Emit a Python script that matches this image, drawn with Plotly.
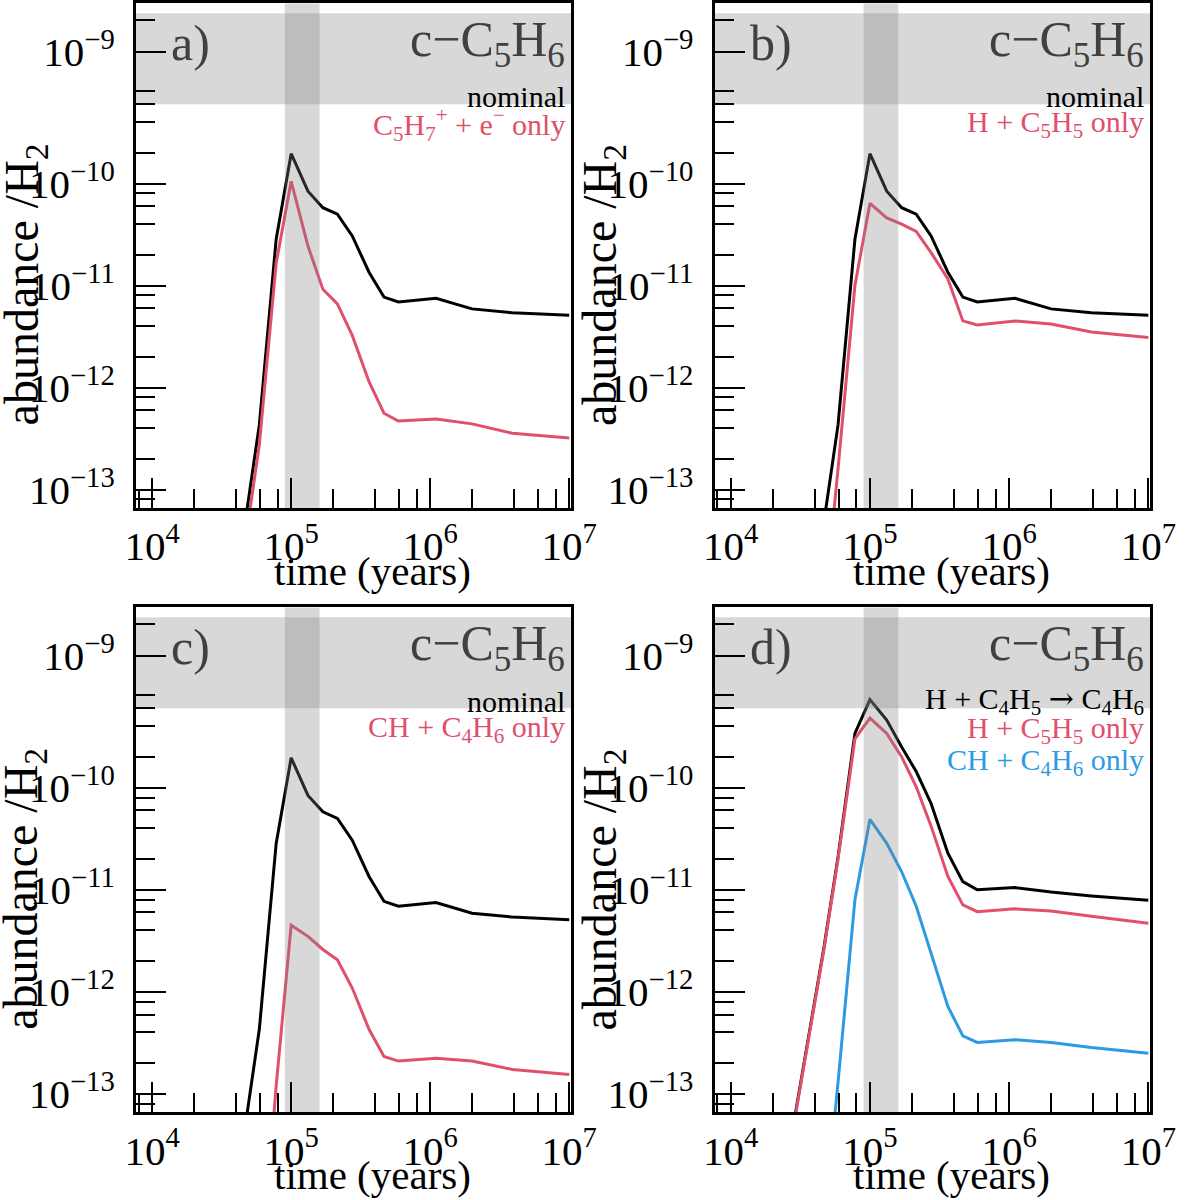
import plotly.graph_objects as go

# ---------------- data ----------------
times = [2.8e4, 3.6e4, 4.67e4, 5.9e4, 7.8e4, 1.0e5, 1.32e5, 1.69e5, 2.15e5,
         2.75e5, 3.63e5, 4.65e5, 5.9e5, 1.1e6, 2.0e6, 3.9e6, 1.0e7]

nominal = [None, None, 4.8e-14, 4.3e-13, 2.84e-11, 1.96e-10, 8.4e-11, 5.8e-11, 5.0e-11,
           3.06e-11, 1.35e-11, 7.7e-12, 6.9e-12, 7.5e-12, 5.9e-12, 5.4e-12, 5.1e-12]

c5h7_e_only = [None, None, 3.0e-14, 2.75e-13, 1.66e-11, 1.05e-10, 2.44e-11, 9.2e-12, 6.6e-12,
               3.24e-12, 1.14e-12, 5.6e-13, 4.7e-13, 4.9e-13, 4.4e-13, 3.56e-13, 3.2e-13]

h_c5h5_only_b = [None, None, 6e-15, 1.6e-13, 1.0e-11, 6.4e-11, 4.6e-11, 4.0e-11, 3.4e-11,
                 2.1e-11, 1.16e-11, 4.5e-12, 4.1e-12, 4.5e-12, 4.2e-12, 3.5e-12, 3.1e-12]

ch_c4h6_only_c = [None, None, None, 1e-15, 1.2e-13, 4.5e-12, 3.5e-12, 2.6e-12, 2.06e-12,
                  1.09e-12, 4.3e-13, 2.33e-13, 2.1e-13, 2.24e-13, 2.1e-13, 1.74e-13, 1.55e-13]

h_c4h5_d = [4.7e-14, 3.6e-13, 2.7e-12, 2.1e-11, 3.4e-10, 7.3e-10, 4.6e-10, 2.5e-10, 1.44e-10,
            7.0e-11, 2.28e-11, 1.2e-11, 1.0e-11, 1.05e-11, 9.5e-12, 8.7e-12, 7.9e-12]

h_c5h5_only_d = [4.5e-14, 3.4e-13, 2.6e-12, 2.0e-11, 3.0e-10, 4.8e-10, 3.4e-10, 2.0e-10, 1.02e-10,
                 4.2e-11, 1.35e-11, 7.1e-12, 6.1e-12, 6.5e-12, 6.2e-12, 5.5e-12, 4.7e-12]

ch_c4h6_only_d = [None, None, 5e-15, 1.3e-13, 8e-12, 4.9e-11, 2.85e-11, 1.5e-11, 6.9e-12,
                  2.4e-12, 7.2e-13, 3.7e-13, 3.2e-13, 3.4e-13, 3.2e-13, 2.85e-13, 2.5e-13]

panel_letters = ["a)", "b)", "c)", "d)"]
species = "c\u2212C<sub>5</sub>H<sub>6</sub>"

x_tickvals = [1e4, 1e5, 1e6, 1e7]
x_ticktext = ["10<sup>4</sup>", "10<sup>5</sup>", "10<sup>6</sup>", "10<sup>7</sup>"]
y_tickvals = [1e-13, 1e-12, 1e-11, 1e-10, 1.95e-9]
y_ticktext = ["10<sup>\u221213</sup>", "10<sup>\u221212</sup>", "10<sup>\u221211</sup>",
              "10<sup>\u221210</sup>", "10<sup>\u22129</sup>"]

# shaded bands
hband = [6.0e-10, 4.66e-9]
vband = [9.0e4, 1.6e5]

# ---------------- styling ----------------
BLACK = "#000000"
RED = "#e0506c"
BLUE = "#2b9be2"
FONT = "Liberation Serif"
BAND = "rgba(128,128,128,0.31)"
ARROW = "<span style='font-family:DejaVu Serif'>\u2192</span>"

panels = [
    dict(xa="x", ya="y", series=[(nominal, BLACK), (c5h7_e_only, RED)],
         labels=[("nominal", BLACK),
                 ("C<sub>5</sub>H<sub>7</sub><sup>+</sup> + e<sup>\u2212</sup> only", RED)]),
    dict(xa="x2", ya="y2", series=[(nominal, BLACK), (h_c5h5_only_b, RED)],
         labels=[("nominal", BLACK), ("H + C<sub>5</sub>H<sub>5</sub> only", RED)]),
    dict(xa="x3", ya="y3", series=[(nominal, BLACK), (ch_c4h6_only_c, RED)],
         labels=[("nominal", BLACK), ("CH + C<sub>4</sub>H<sub>6</sub> only", RED)]),
    dict(xa="x4", ya="y4", series=[(h_c4h5_d, BLACK), (h_c5h5_only_d, RED), (ch_c4h6_only_d, BLUE)],
         labels=[("H + C<sub>4</sub>H<sub>5</sub> " + ARROW + " C<sub>4</sub>H<sub>6</sub>", BLACK),
                 ("H + C<sub>5</sub>H<sub>5</sub> only", RED),
                 ("CH + C<sub>4</sub>H<sub>6</sub> only", BLUE)]),
]

# pixel geometry of the panels (left, right, top, bottom)
W = H = 1200
geom = [(129, 578, 3.5, 510), (726, 1175.5, 3.5, 510),
        (129, 578, 610, 1117), (726, 1175.5, 610, 1117)]

fig = go.Figure()

for p in panels:
    for vals, col in p["series"]:
        fig.add_trace(go.Scatter(x=times, y=vals, mode="lines", xaxis=p["xa"], yaxis=p["ya"],
                                 line=dict(color=col, width=3), connectgaps=False,
                                 hoverinfo="skip", showlegend=False))
    # bands on top of the curves
    fig.add_trace(go.Scatter(x=[1e3, 1e8, 1e8, 1e3, 1e3],
                             y=[hband[0], hband[0], hband[1], hband[1], hband[0]],
                             mode="none", fill="toself", fillcolor=BAND, xaxis=p["xa"], yaxis=p["ya"],
                             hoverinfo="skip", showlegend=False))
    fig.add_trace(go.Scatter(x=[vband[0], vband[1], vband[1], vband[0], vband[0]],
                             y=[1e-16, 1e-16, 1e-7, 1e-7, 1e-16],
                             mode="none", fill="toself", fillcolor=BAND, xaxis=p["xa"], yaxis=p["ya"],
                             hoverinfo="skip", showlegend=False))

x_minor = [m * 10 ** e for e in range(3, 7) for m in (2, 4, 6, 8)]
x_minor = [v for v in x_minor if 7.7e3 < v < 1.0e7]
y_minor = [m * 10.0 ** e for e in range(-14, -9) for m in (2, 4, 6, 8)]
y_minor = [v for v in y_minor if 6.7e-14 < v < 1.1e-9] + [3.98e-9]

layout = dict(width=W, height=H, margin=dict(l=0, r=0, t=0, b=0),
              paper_bgcolor="white", plot_bgcolor="white", showlegend=False)

for i, (l, r, t, b) in enumerate(geom):
    n = "" if i == 0 else str(i + 1)
    xdom = [l / W, r / W]
    ydom = [1 - b / H, 1 - t / H]
    common = dict(type="log", showgrid=False, zeroline=False, showline=True, linewidth=3,
                  linecolor="black", mirror=True, ticks="inside", tickwidth=2,
                  tickcolor="black", ticklen=30,
                  tickfont=dict(family=FONT, size=41, color="black"))
    layout["xaxis" + n] = dict(common, domain=xdom, anchor="y" + n, range=[3.884, 7.014],
                               tickmode="array", tickvals=x_tickvals, ticktext=x_ticktext,
                               ticklabelstandoff=0,
                               minor=dict(tickmode="array", tickvals=x_minor, ticks="inside",
                                          ticklen=19, tickwidth=2, tickcolor="black", showgrid=False))
    layout["yaxis" + n] = dict(common, domain=ydom, anchor="x" + n, range=[-13.18, -8.235],
                               tickmode="array", tickvals=y_tickvals, ticktext=y_ticktext,
                               ticklabelstandoff=10,
                               minor=dict(tickmode="array", tickvals=y_minor, ticks="inside",
                                          ticklen=19, tickwidth=2, tickcolor="black", showgrid=False))

fig.update_layout(**layout)

ann = []
def A(text, xpx, ypx, size, color, xanchor="right", yanchor="middle", angle=0):
    ann.append(dict(text=text, x=xpx / W, y=1 - ypx / H, xref="paper", yref="paper",
                    xanchor=xanchor, yanchor=yanchor, showarrow=False, textangle=angle,
                    font=dict(family=FONT, size=size, color=color)))

for i, (l, r, t, b) in enumerate(geom):
    p = panels[i]
    top = b - 507
    A(panel_letters[i], l + 34, top + 40, 50, "#404040", xanchor="left")
    A(species, r - 4, top + 40, 50, "#404040")
    if i < 3:
        ys = [top + 94, top + 122]
    else:
        ys = [top + 93, top + 123, top + 155]
    for (txt, col), yy in zip(p["labels"], ys):
        A(txt, r - 4, yy, 30, col)
    # axis titles
    A("time (years)", l + 244, b + 63, 41, "black", xanchor="center")
    A("abundance /H<sub>2</sub>", l - 115, b - 224, 48, "black", xanchor="center", angle=-90)

fig.update_layout(annotations=ann)
fig.write_html("out.html")
